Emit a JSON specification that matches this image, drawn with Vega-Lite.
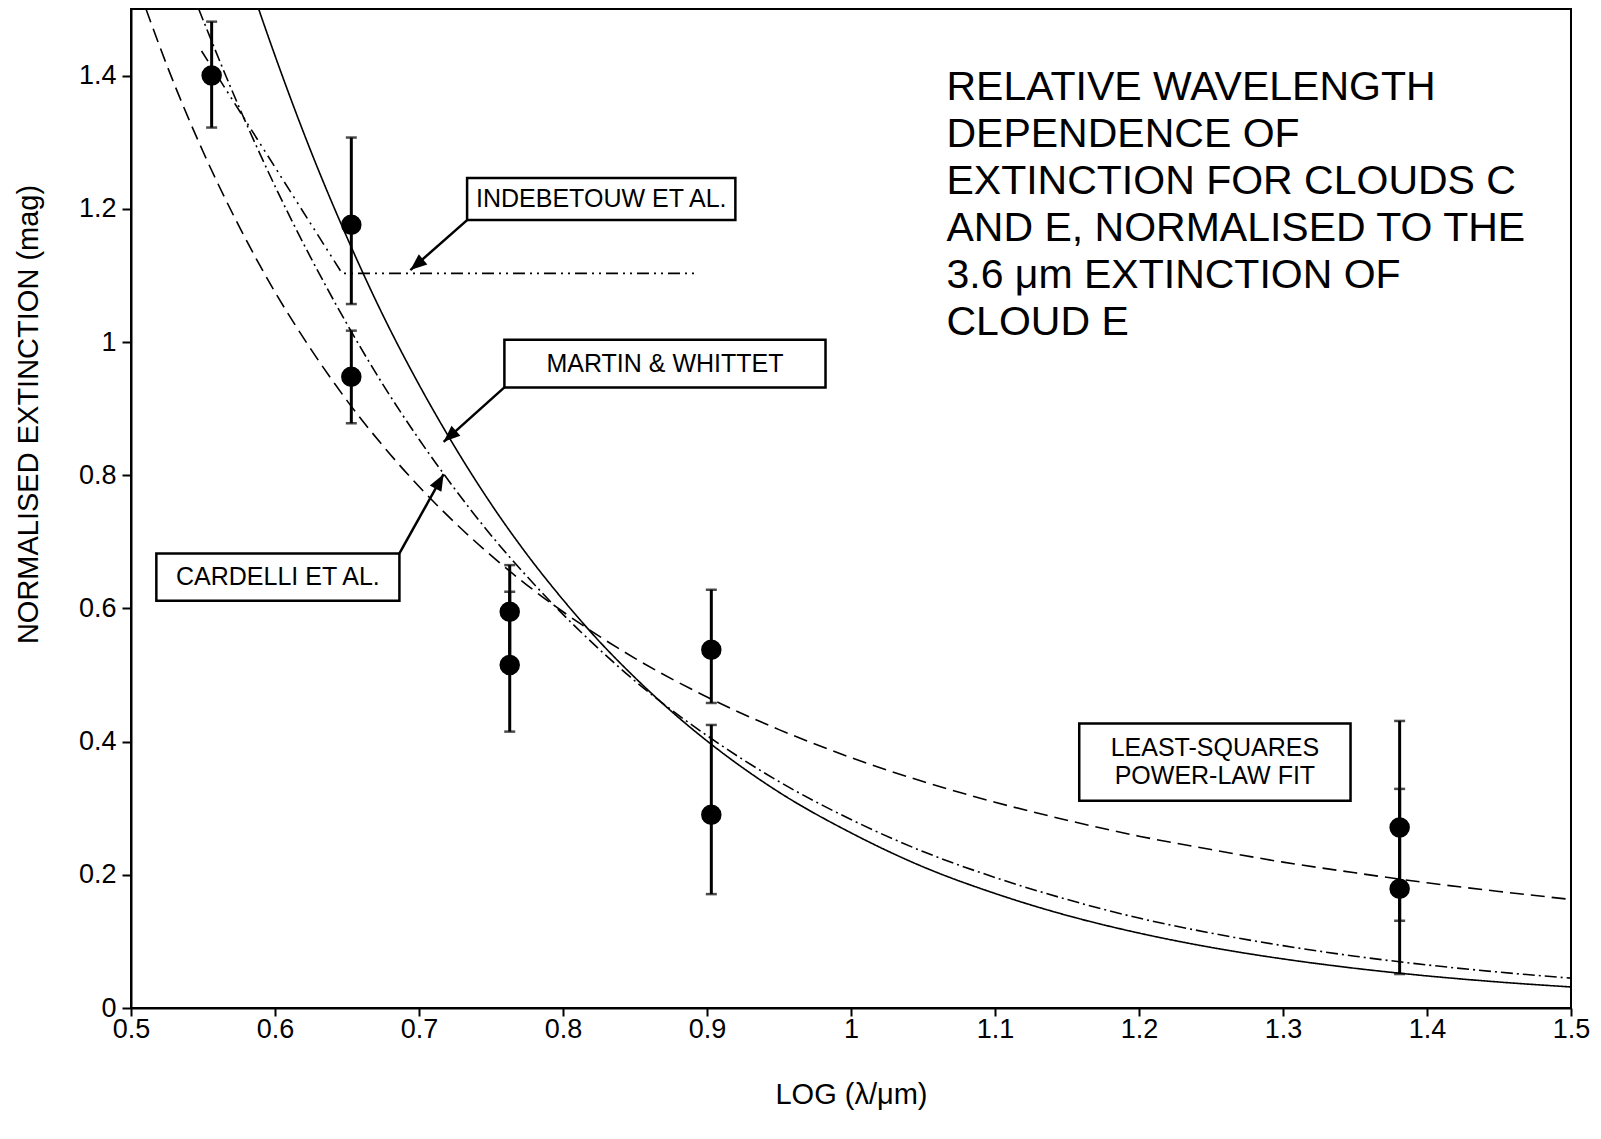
{
  "$schema": "https://vega.github.io/schema/vega-lite/v6.json",
  "width": 1440,
  "height": 999,
  "autosize": {"type": "none"},
  "padding": {"left": 131, "top": 9, "right": 30, "bottom": 131},
  "background": "white",
  "config": {
    "view": {"stroke": "black", "strokeWidth": 2},
    "font": "Liberation Sans",
    "axis": {
      "grid": false,
      "domainColor": "black",
      "domainWidth": 2,
      "tickColor": "black",
      "tickWidth": 2,
      "labelColor": "black",
      "labelFont": "Liberation Sans",
      "labelFontSize": 27,
      "labelFlush": false,
      "labelOverlap": false,
      "titleFont": "Liberation Sans",
      "titleFontSize": 29,
      "titleFontWeight": "normal",
      "titleColor": "black"
    }
  },
  "datasets": {
    "curves": [
      {"model": "Martin & Whittet", "x": 0.588, "y": 1.504},
      {"model": "Martin & Whittet", "x": 0.6, "y": 1.43},
      {"model": "Martin & Whittet", "x": 0.625, "y": 1.286},
      {"model": "Martin & Whittet", "x": 0.65, "y": 1.157},
      {"model": "Martin & Whittet", "x": 0.675, "y": 1.04},
      {"model": "Martin & Whittet", "x": 0.7, "y": 0.936},
      {"model": "Martin & Whittet", "x": 0.725, "y": 0.842},
      {"model": "Martin & Whittet", "x": 0.75, "y": 0.757},
      {"model": "Martin & Whittet", "x": 0.775, "y": 0.681},
      {"model": "Martin & Whittet", "x": 0.8, "y": 0.613},
      {"model": "Martin & Whittet", "x": 0.825, "y": 0.551},
      {"model": "Martin & Whittet", "x": 0.85, "y": 0.496},
      {"model": "Martin & Whittet", "x": 0.875, "y": 0.446},
      {"model": "Martin & Whittet", "x": 0.9, "y": 0.401},
      {"model": "Martin & Whittet", "x": 0.95, "y": 0.324},
      {"model": "Martin & Whittet", "x": 1.0, "y": 0.263},
      {"model": "Martin & Whittet", "x": 1.05, "y": 0.212},
      {"model": "Martin & Whittet", "x": 1.1, "y": 0.172},
      {"model": "Martin & Whittet", "x": 1.15, "y": 0.139},
      {"model": "Martin & Whittet", "x": 1.2, "y": 0.1125},
      {"model": "Martin & Whittet", "x": 1.25, "y": 0.091},
      {"model": "Martin & Whittet", "x": 1.3, "y": 0.0737},
      {"model": "Martin & Whittet", "x": 1.35, "y": 0.0596},
      {"model": "Martin & Whittet", "x": 1.4, "y": 0.0482},
      {"model": "Martin & Whittet", "x": 1.45, "y": 0.039},
      {"model": "Martin & Whittet", "x": 1.5, "y": 0.0316},
      {"model": "Cardelli et al.", "x": 0.547, "y": 1.5},
      {"model": "Cardelli et al.", "x": 0.575, "y": 1.353},
      {"model": "Cardelli et al.", "x": 0.6, "y": 1.234},
      {"model": "Cardelli et al.", "x": 0.625, "y": 1.126},
      {"model": "Cardelli et al.", "x": 0.65, "y": 1.027},
      {"model": "Cardelli et al.", "x": 0.675, "y": 0.936},
      {"model": "Cardelli et al.", "x": 0.7, "y": 0.854},
      {"model": "Cardelli et al.", "x": 0.725, "y": 0.779},
      {"model": "Cardelli et al.", "x": 0.75, "y": 0.71},
      {"model": "Cardelli et al.", "x": 0.775, "y": 0.648},
      {"model": "Cardelli et al.", "x": 0.8, "y": 0.591},
      {"model": "Cardelli et al.", "x": 0.825, "y": 0.539},
      {"model": "Cardelli et al.", "x": 0.85, "y": 0.491},
      {"model": "Cardelli et al.", "x": 0.875, "y": 0.448},
      {"model": "Cardelli et al.", "x": 0.9, "y": 0.409},
      {"model": "Cardelli et al.", "x": 0.95, "y": 0.34},
      {"model": "Cardelli et al.", "x": 1.0, "y": 0.283},
      {"model": "Cardelli et al.", "x": 1.05, "y": 0.235},
      {"model": "Cardelli et al.", "x": 1.1, "y": 0.196},
      {"model": "Cardelli et al.", "x": 1.15, "y": 0.163},
      {"model": "Cardelli et al.", "x": 1.2, "y": 0.135},
      {"model": "Cardelli et al.", "x": 1.25, "y": 0.1125},
      {"model": "Cardelli et al.", "x": 1.3, "y": 0.0936},
      {"model": "Cardelli et al.", "x": 1.35, "y": 0.0778},
      {"model": "Cardelli et al.", "x": 1.4, "y": 0.0647},
      {"model": "Cardelli et al.", "x": 1.45, "y": 0.0539},
      {"model": "Cardelli et al.", "x": 1.5, "y": 0.0448},
      {"model": "Least-squares power-law fit", "x": 0.5104, "y": 1.5},
      {"model": "Least-squares power-law fit", "x": 0.525, "y": 1.415},
      {"model": "Least-squares power-law fit", "x": 0.55, "y": 1.286},
      {"model": "Least-squares power-law fit", "x": 0.575, "y": 1.174},
      {"model": "Least-squares power-law fit", "x": 0.6, "y": 1.075},
      {"model": "Least-squares power-law fit", "x": 0.625, "y": 0.989},
      {"model": "Least-squares power-law fit", "x": 0.65, "y": 0.912},
      {"model": "Least-squares power-law fit", "x": 0.675, "y": 0.844},
      {"model": "Least-squares power-law fit", "x": 0.7, "y": 0.783},
      {"model": "Least-squares power-law fit", "x": 0.725, "y": 0.7285},
      {"model": "Least-squares power-law fit", "x": 0.75, "y": 0.6795},
      {"model": "Least-squares power-law fit", "x": 0.775, "y": 0.635},
      {"model": "Least-squares power-law fit", "x": 0.8, "y": 0.595},
      {"model": "Least-squares power-law fit", "x": 0.85, "y": 0.525},
      {"model": "Least-squares power-law fit", "x": 0.9, "y": 0.467},
      {"model": "Least-squares power-law fit", "x": 0.95, "y": 0.418},
      {"model": "Least-squares power-law fit", "x": 1.0, "y": 0.376},
      {"model": "Least-squares power-law fit", "x": 1.05, "y": 0.34},
      {"model": "Least-squares power-law fit", "x": 1.1, "y": 0.309},
      {"model": "Least-squares power-law fit", "x": 1.15, "y": 0.282},
      {"model": "Least-squares power-law fit", "x": 1.2, "y": 0.258},
      {"model": "Least-squares power-law fit", "x": 1.25, "y": 0.238},
      {"model": "Least-squares power-law fit", "x": 1.3, "y": 0.219},
      {"model": "Least-squares power-law fit", "x": 1.35, "y": 0.203},
      {"model": "Least-squares power-law fit", "x": 1.4, "y": 0.188},
      {"model": "Least-squares power-law fit", "x": 1.45, "y": 0.175},
      {"model": "Least-squares power-law fit", "x": 1.5, "y": 0.163}
    ],
    "indebetouw": [
      {"x": 0.549, "y": 1.437},
      {"x": 0.6466, "y": 1.103},
      {"x": 0.8915, "y": 1.103}
    ],
    "obs": [
      {"x": 0.556, "y": 1.4, "lo": 1.322, "hi": 1.481},
      {"x": 0.653, "y": 1.176, "lo": 1.057, "hi": 1.307},
      {"x": 0.653, "y": 0.948, "lo": 0.878, "hi": 1.017},
      {"x": 0.763, "y": 0.595, "lo": 0.524, "hi": 0.665},
      {"x": 0.763, "y": 0.515, "lo": 0.415, "hi": 0.625},
      {"x": 0.903, "y": 0.538, "lo": 0.458, "hi": 0.628},
      {"x": 0.903, "y": 0.29, "lo": 0.171, "hi": 0.425},
      {"x": 1.381, "y": 0.271, "lo": 0.131, "hi": 0.431},
      {"x": 1.381, "y": 0.179, "lo": 0.051, "hi": 0.329}
    ],
    "arrows": [
      {"name": "ind", "x": 0.7334, "y": 1.183, "xe": 0.694, "ye": 1.108},
      {"name": "mw", "x": 0.7593, "y": 0.9318, "xe": 0.7171, "ye": 0.8501},
      {"name": "car", "x": 0.6864, "y": 0.6825, "xe": 0.7171, "ye": 0.8016}
    ],
    "boxes": [
      {"x": 0.7334, "x2": 0.9197, "y": 1.2461, "y2": 1.183},
      {"x": 0.7593, "x2": 0.9823, "y": 1.0033, "y2": 0.9318},
      {"x": 0.5176, "x2": 0.6864, "y": 0.6825, "y2": 0.6113},
      {"x": 1.1585, "x2": 1.3469, "y": 0.4272, "y2": 0.311}
    ],
    "labels": [
      {"label": "INDEBETOUW ET AL.", "x": 0.8266, "y": 1.2146},
      {"label": "MARTIN & WHITTET", "x": 0.8708, "y": 0.9676},
      {"label": "CARDELLI  ET AL.", "x": 0.602, "y": 0.6469},
      {"label": "LEAST-SQUARES", "x": 1.2527, "y": 0.39},
      {"label": "POWER-LAW FIT", "x": 1.2527, "y": 0.3476}
    ],
    "title": [
      {"text": "RELATIVE WAVELENGTH\nDEPENDENCE OF\nEXTINCTION FOR CLOUDS C\nAND E, NORMALISED TO THE\n3.6 μm EXTINCTION OF\nCLOUD E", "x": 1.0663, "y": 1.3632}
    ]
  },
  "layer": [
    {
      "data": {"name": "curves"},
      "mark": {"type": "line", "interpolate": "monotone", "clip": true, "color": "black", "strokeWidth": 1.6},
      "encoding": {
        "x": {
          "field": "x", "type": "quantitative",
          "scale": {"domain": [0.5, 1.5], "nice": false, "zero": false},
          "axis": {
            "title": "LOG (λ/μm)",
            "values": [0.5, 0.6, 0.7, 0.8, 0.9, 1, 1.1, 1.2, 1.3, 1.4, 1.5],
            "format": "~g",
            "tickSize": 8,
            "labelPadding": 0,
            "titleY": 86,
            "titleBaseline": "middle"
          }
        },
        "y": {
          "field": "y", "type": "quantitative",
          "scale": {"domain": [0, 1.5], "nice": false, "zero": false},
          "axis": {
            "title": "NORMALISED EXTINCTION (mag)",
            "values": [0, 0.2, 0.4, 0.6, 0.8, 1, 1.2, 1.4],
            "format": "~g",
            "tickSize": 9,
            "labelPadding": 6,
            "titleX": -103,
            "titleY": 405,
            "titleAngle": -90,
            "titleAlign": "center",
            "titleBaseline": "middle"
          }
        },
        "strokeDash": {
          "field": "model", "type": "nominal", "legend": null,
          "scale": {
            "domain": ["Martin & Whittet", "Cardelli et al.", "Least-squares power-law fit"],
            "range": [[1, 0], [12, 4, 2, 4], [14, 7]]
          }
        }
      }
    },
    {
      "data": {"name": "indebetouw"},
      "mark": {"type": "line", "color": "black", "strokeWidth": 1.6, "strokeDash": [12, 5, 2, 5, 2, 5]},
      "encoding": {
        "x": {"field": "x", "type": "quantitative"},
        "y": {"field": "y", "type": "quantitative"}
      }
    },
    {
      "data": {"name": "obs"},
      "mark": {"type": "rule", "color": "black", "strokeWidth": 3},
      "encoding": {
        "x": {"field": "x", "type": "quantitative"},
        "y": {"field": "lo", "type": "quantitative"},
        "y2": {"field": "hi"}
      }
    },
    {
      "data": {"name": "obs"},
      "mark": {"type": "tick", "orient": "horizontal", "color": "black", "size": 11, "thickness": 2.5},
      "encoding": {
        "x": {"field": "x", "type": "quantitative"},
        "y": {"field": "lo", "type": "quantitative"}
      }
    },
    {
      "data": {"name": "obs"},
      "mark": {"type": "tick", "orient": "horizontal", "color": "black", "size": 11, "thickness": 2.5},
      "encoding": {
        "x": {"field": "x", "type": "quantitative"},
        "y": {"field": "hi", "type": "quantitative"}
      }
    },
    {
      "data": {"name": "obs"},
      "mark": {"type": "point", "filled": true, "color": "black", "opacity": 1, "size": 420},
      "encoding": {
        "x": {"field": "x", "type": "quantitative"},
        "y": {"field": "y", "type": "quantitative"}
      }
    },
    {
      "data": {"name": "arrows"},
      "mark": {"type": "rule", "color": "black", "strokeWidth": 2.5},
      "encoding": {
        "x": {"field": "x", "type": "quantitative"},
        "y": {"field": "y", "type": "quantitative"},
        "x2": {"field": "xe"},
        "y2": {"field": "ye"}
      }
    },
    {
      "data": {"name": "arrows"},
      "transform": [{"filter": "datum.name == 'ind'"}],
      "mark": {"type": "point", "filled": true, "color": "black", "opacity": 1, "shape": "M0,0L0.4,1L-0.4,1Z", "size": 1100, "angle": 230},
      "encoding": {
        "x": {"field": "xe", "type": "quantitative"},
        "y": {"field": "ye", "type": "quantitative"}
      }
    },
    {
      "data": {"name": "arrows"},
      "transform": [{"filter": "datum.name == 'mw'"}],
      "mark": {"type": "point", "filled": true, "color": "black", "opacity": 1, "shape": "M0,0L0.4,1L-0.4,1Z", "size": 1100, "angle": 228},
      "encoding": {
        "x": {"field": "xe", "type": "quantitative"},
        "y": {"field": "ye", "type": "quantitative"}
      }
    },
    {
      "data": {"name": "arrows"},
      "transform": [{"filter": "datum.name == 'car'"}],
      "mark": {"type": "point", "filled": true, "color": "black", "opacity": 1, "shape": "M0,0L0.4,1L-0.4,1Z", "size": 1100, "angle": 29},
      "encoding": {
        "x": {"field": "xe", "type": "quantitative"},
        "y": {"field": "ye", "type": "quantitative"}
      }
    },
    {
      "data": {"name": "boxes"},
      "mark": {"type": "rect", "fill": "white", "stroke": "black", "strokeWidth": 2.5},
      "encoding": {
        "x": {"field": "x", "type": "quantitative"},
        "x2": {"field": "x2"},
        "y": {"field": "y", "type": "quantitative"},
        "y2": {"field": "y2"}
      }
    },
    {
      "data": {"name": "labels"},
      "mark": {"type": "text", "font": "Liberation Sans", "fontSize": 25, "color": "black", "align": "center", "baseline": "middle"},
      "encoding": {
        "x": {"field": "x", "type": "quantitative"},
        "y": {"field": "y", "type": "quantitative"},
        "text": {"field": "label"}
      }
    },
    {
      "data": {"name": "title"},
      "mark": {"type": "text", "font": "Liberation Sans", "fontSize": 41, "color": "black", "align": "left", "baseline": "alphabetic", "lineBreak": "\n", "lineHeight": 47},
      "encoding": {
        "x": {"field": "x", "type": "quantitative"},
        "y": {"field": "y", "type": "quantitative"},
        "text": {"field": "text"}
      }
    }
  ]
}
